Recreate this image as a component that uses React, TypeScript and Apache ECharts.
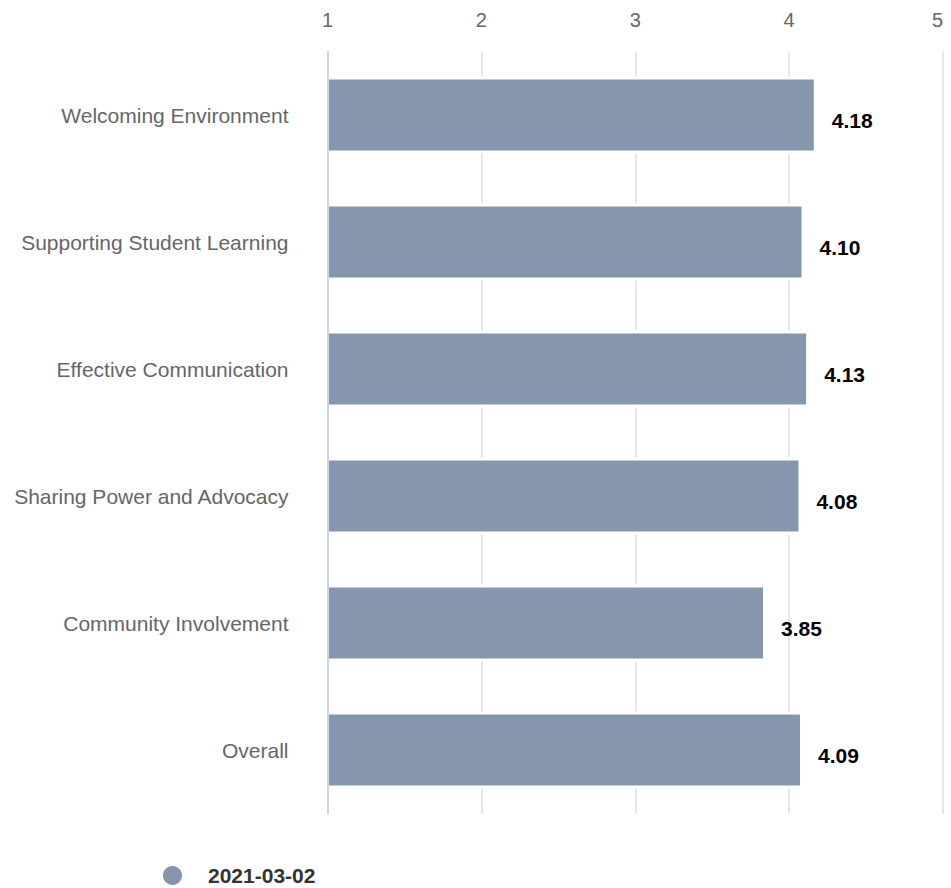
import React, { useEffect, useRef } from "react";
import * as echarts from "echarts";

const categories = [
  "Welcoming Environment",
  "Supporting Student Learning",
  "Effective Communication",
  "Sharing Power and Advocacy",
  "Community Involvement",
  "Overall",
];
const values = [4.18, 4.1, 4.13, 4.08, 3.85, 4.09];
const seriesName = "2021-03-02";
const axisMin = 1;
const axisMax = 5;
const axisInterval = 1;

const FONT = "'Liberation Sans', Arial, Helvetica, sans-serif";

export default function App() {
  const ref = useRef<HTMLDivElement>(null);
  useEffect(() => {
    if (!ref.current) return;
    const chart = echarts.init(ref.current, undefined, { renderer: "svg" });
    chart.setOption({
      animation: false,
      textStyle: { fontFamily: FONT },
      grid: { left: 327.5, right: 8, top: 51.5, bottom: 74.5, containLabel: false },
      legend: {
        data: [{ name: seriesName, icon: "circle" }],
        left: 161,
        top: 864,
        padding: 0,
        itemWidth: 21,
        itemHeight: 21,
        textStyle: {
          fontFamily: FONT,
          fontSize: 21,
          fontWeight: "bold",
          color: "#333333",
          padding: [0, 0, 0, 20],
        },
      },
      xAxis: {
        type: "value",
        position: "top",
        min: axisMin,
        max: axisMax,
        interval: axisInterval,
        z: 0,
        axisLine: { show: false },
        axisTick: { show: false },
        axisLabel: {
          color: "#666666",
          fontSize: 20,
          fontFamily: FONT,
          margin: 22,
          alignMaxLabel: "right",
        },
        splitLine: { show: true, lineStyle: { color: "#e6e6e6", width: 2 } },
      },
      yAxis: {
        type: "category",
        data: categories,
        inverse: true,
        z: 5,
        axisLine: { show: true, lineStyle: { color: "#ccd6eb", width: 2 } },
        axisTick: { show: false },
        axisLabel: {
          color: "#666666",
          fontSize: 21,
          fontFamily: FONT,
          margin: 39,
        },
        splitLine: { show: false },
      },
      series: [
        {
          name: seriesName,
          type: "bar",
          data: values,
          barWidth: 77,
          itemStyle: { color: "#8596ad", borderColor: "#ffffff", borderWidth: 3 },
          label: {
            show: true,
            position: "right",
            distance: 15,
            offset: [0, 5],
            formatter: (p: any) => Number(p.value).toFixed(2),
            color: "#000000",
            fontSize: 21,
            fontWeight: "bold",
            fontFamily: FONT,
          },
        },
      ],
    });
    return () => chart.dispose();
  }, []);
  return (
    <div
      ref={ref}
      style={{ position: "absolute", left: 0, top: 0, width: 951, height: 888 }}
    />
  );
}
